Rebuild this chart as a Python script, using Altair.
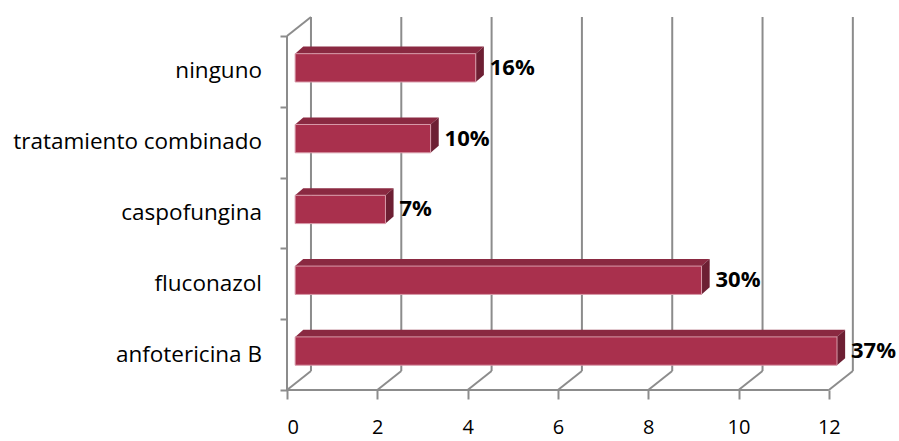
import altair as alt
import pandas as pd

# ---- data ----
categories = ["anfotericina B", "fluconazol", "caspofungina", "tratamiento combinado", "ninguno"]
values = [12, 9, 2, 3, 4]
pct_labels = ["37%", "30%", "7%", "10%", "16%"]
x_ticks = [0, 2, 4, 6, 8, 10, 12]
x_max_tick = 12
n_cat = len(categories)

# ---- 3-D look (depth in data units) ----
WDX, WDY = 0.531, 0.268   # wall depth
BDX, BDY = 0.18, 0.10     # bar depth
BAR_LO, BAR_HI = -0.15, 0.25

FONT = "Open Sans"
GRID = "#8C8C8C"
FRONT, TOP, SIDE = "#A9304D", "#8A2941", "#6D1F33"

centers = [i + 0.5 for i in range(n_cat)]

bars = pd.DataFrame({"name": categories, "v": values, "c": centers, "pct": pct_labels})
bars["x0"] = BDX
bars["x1"] = bars["v"] + BDX
bars["y0"] = bars["c"] + BAR_LO
bars["y1"] = bars["c"] + BAR_HI
bars["ym"] = bars["c"] + (BAR_LO + BAR_HI) / 2

top_rows, side_rows = [], []
for name, v, c in zip(categories, values, centers):
    y0, y1 = c + BAR_LO, c + BAR_HI
    top_rows.append({"name": name, "y": y1, "x": BDX, "x2": v + BDX})
    top_rows.append({"name": name, "y": y1 + BDY, "x": 2 * BDX, "x2": v + 2 * BDX})
    side_rows.append({"name": name, "x": v + BDX, "y": y0, "y2": y1})
    side_rows.append({"name": name, "x": v + 2 * BDX, "y": y0 + BDY, "y2": y1 + BDY})
top_df = pd.DataFrame(top_rows)
side_df = pd.DataFrame(side_rows)

seg = []
for t in x_ticks:
    seg.append({"x": t + WDX, "y": WDY, "x2": t + WDX, "y2": n_cat + WDY})   # back wall grid
    seg.append({"x": t, "y": 0, "x2": t + WDX, "y2": WDY})                 # floor diagonal
seg.append({"x": 0, "y": n_cat, "x2": WDX, "y2": n_cat + WDY})             # top-left diagonal
seg.append({"x": 0, "y": 0, "x2": 0, "y2": n_cat})                         # front left edge
seg.append({"x": 0, "y": 0, "x2": x_max_tick, "y2": 0})                    # front floor edge
seg_df = pd.DataFrame(seg)

xs = alt.Scale(domain=[0, 12.49], nice=False, zero=False)
ys = alt.Scale(domain=[0, n_cat + WDY], nice=False, zero=False)

XAX = alt.Axis(values=x_ticks, domain=False, grid=False, tickSize=9,
               tickColor=GRID, tickWidth=2, labelFont=FONT, labelFontSize=20,
               labelColor="#000000", labelPadding=18, title=None)
YAX = alt.Axis(values=list(range(n_cat + 1)), labels=False, domain=False,
               grid=False, tickSize=7, tickColor=GRID, tickWidth=2, title=None)


def X(field, **kw):
    return alt.X(field, scale=xs, axis=XAX, title=None, **kw)


def Y(field, **kw):
    return alt.Y(field, scale=ys, axis=YAX, title=None, **kw)


frame = alt.Chart(seg_df).mark_rule(color=GRID, strokeWidth=2).encode(
    x=X("x:Q"), y=Y("y:Q"), x2="x2:Q", y2="y2:Q",
)

top = alt.Chart(top_df).mark_area(orient="horizontal", color=TOP).encode(
    y=Y("y:Q"), x=X("x:Q", stack=None), x2="x2:Q", detail="name:N",
)

side = alt.Chart(side_df).mark_area(orient="vertical", color=SIDE).encode(
    x=X("x:Q"), y=Y("y:Q", stack=None), y2="y2:Q", detail="name:N",
)

front = alt.Chart(bars).mark_bar(color=FRONT, stroke="#D89AA9", strokeWidth=1).encode(
    x=X("x0:Q"), x2="x1:Q", y=Y("y0:Q"), y2="y1:Q",
)

cat_text = alt.Chart(bars).mark_text(align="right", baseline="middle", dx=-25,
                                     font=FONT, fontSize=22.5, color="#000000").encode(
    x=alt.datum(0, scale=xs, axis=XAX),
    y=Y("c:Q"),
    text="name:N",
)

pct_text = alt.Chart(bars).mark_text(align="left", baseline="middle", dx=14,
                                     font=FONT, fontSize=22, fontWeight="bold",
                                     color="#000000").encode(
    x=X("x1:Q"), y=Y("ym:Q"), text="pct:N",
)

chart = alt.layer(frame, top, side, front, cat_text, pct_text).properties(
    width=564, height=373,
    padding={"left": 287, "top": 17, "right": 48, "bottom": 51},
    autosize=alt.AutoSizeParams(type="none"),
    background="#FFFFFF",
).configure_view(stroke=None)

chart.save("out.html", embed_options={"renderer": "svg", "actions": False})
